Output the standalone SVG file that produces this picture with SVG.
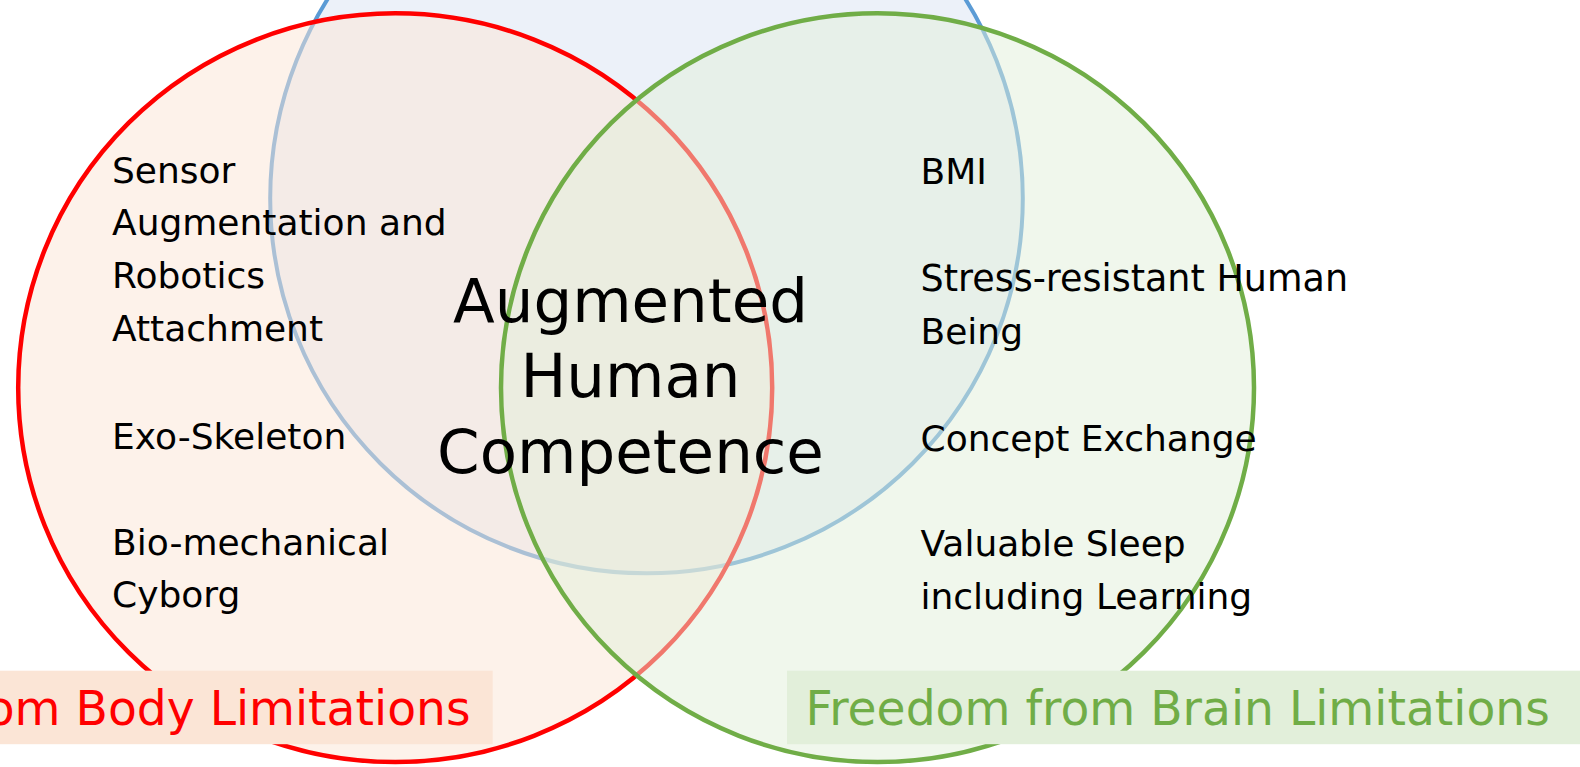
<svg xmlns="http://www.w3.org/2000/svg" width="1580" height="767" viewBox="0 0 1580 767">
<style>
.t{font-family:"DejaVu Sans","Liberation Sans",sans-serif;font-size:36px;fill:#000}
.big{font-family:"DejaVu Sans","Liberation Sans",sans-serif;font-size:61px;fill:#000;text-anchor:middle}
.lab{font-family:"DejaVu Sans","Liberation Sans",sans-serif;font-size:47.2px}
</style>
<rect width="1580" height="767" fill="#ffffff"/>
<g id="circle-blue"><ellipse cx="646.5" cy="198.3" rx="376.3" ry="375" fill="#DAE3F3" fill-opacity="0.5" stroke="#5B9BD5" stroke-width="4"/></g>
<g id="circle-red"><ellipse cx="395.2" cy="387.7" rx="377" ry="374.4" fill="#FBE5D6" fill-opacity="0.5" stroke="#FF0000" stroke-width="4.5"/></g>
<g id="circle-green"><ellipse cx="877.5" cy="387.7" rx="376.5" ry="374.4" fill="#E2EFDA" fill-opacity="0.5" stroke="#70AD47" stroke-width="4.5"/></g>
<g id="connectors"></g>
<g id="body-items">
<text class="t" x="112" y="183">Sensor</text>
<text class="t" x="112" y="235">Augmentation and</text>
<text class="t" x="112" y="288">Robotics</text>
<text class="t" x="112" y="341">Attachment</text>
<text class="t" x="112" y="449">Exo-Skeleton</text>
<text class="t" x="112" y="555">Bio-mechanical</text>
<text class="t" x="112" y="607">Cyborg</text>
</g>
<g id="brain-items">
<text class="t" x="920.5" y="184">BMI</text>
<text class="t" x="920.5" y="291" style="font-size:36.5px">Stress-resistant Human</text>
<text class="t" x="920.5" y="344">Being</text>
<text class="t" x="920.5" y="451">Concept Exchange</text>
<text class="t" x="920.5" y="556">Valuable Sleep</text>
<text class="t" x="920.5" y="609">including Learning</text>
</g>
<g id="center">
<text class="big" x="630.5" y="322">Augmented</text>
<text class="big" x="630.5" y="397">Human</text>
<text class="big" x="630.5" y="473">Competence</text>
</g>
<g id="label-body">
<rect x="0" y="670.7" width="492.7" height="73.5" fill="#FBE5D6"/>
<text class="lab" x="470.5" y="725" fill="#FF0000" text-anchor="end">om Body Limitations</text>
</g>
<g id="label-brain">
<rect x="787" y="670.7" width="793" height="73.5" fill="#E2EFDA"/>
<text class="lab" x="805.5" y="725" fill="#70AD47">Freedom from Brain Limitations</text>
</g>
</svg>
